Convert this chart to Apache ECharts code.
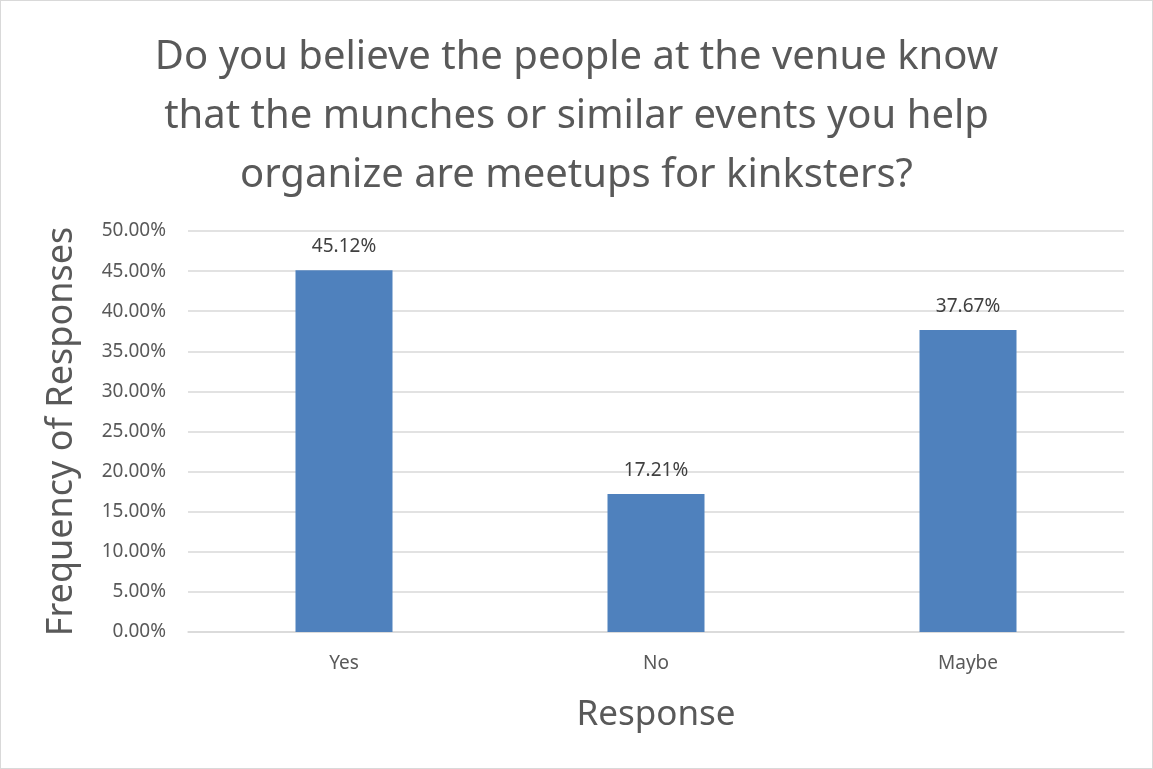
<!DOCTYPE html>
<html><head><meta charset="utf-8">
<script src="https://cdn.jsdelivr.net/npm/echarts@6/dist/echarts.min.js"></script>
<style>html,body{margin:0;padding:0;background:#fff}#c{width:1153px;height:769px;box-sizing:border-box;border:1px solid #d9d9d9}</style>
</head><body><div id="c"></div>
<script>
var categories = ['Yes', 'No', 'Maybe'];
var values = [45.12, 17.21, 37.67];
var titleText = 'Do you believe the people at the venue know\nthat the munches or similar events you help\norganize are meetups for kinksters?';
var chart = echarts.init(document.getElementById('c'));
chart.setOption({
  animation: false,
  title: {
    text: titleText, left: 'center', top: 22,
    textStyle: { fontFamily: 'Noto Sans', fontSize: 40, fontWeight: 'normal', color: '#595959', lineHeight: 59 }
  },
  grid: { left: 187, right: 28, top: 230, bottom: 136 },
  xAxis: {
    type: 'category', data: categories,
    name: 'Response', nameLocation: 'middle', nameGap: 66,
    nameTextStyle: { fontFamily: 'Noto Sans', fontSize: 35, color: '#595959' },
    axisLine: { lineStyle: { color: '#d9d9d9', width: 1.5 } },
    axisTick: { show: false },
    axisLabel: { fontFamily: 'Noto Sans', fontSize: 19, color: '#595959', margin: 22 }
  },
  yAxis: {
    type: 'value', min: 0, max: 50, interval: 5,
    name: 'Frequency of Responses', nameLocation: 'middle', nameGap: 108,
    nameTextStyle: { fontFamily: 'Noto Sans', fontSize: 36, color: '#595959' },
    axisLine: { show: false }, axisTick: { show: false },
    splitLine: { lineStyle: { color: '#d9d9d9', width: 1.5 } },
    axisLabel: { fontFamily: 'Noto Sans', fontSize: 19, color: '#595959', margin: 22,
      formatter: function (v) { return v.toFixed(2) + '%'; } }
  },
  series: [{
    type: 'bar', data: values, barWidth: 97,
    itemStyle: { color: '#4f81bd' },
    label: { show: true, position: 'top', distance: 14, fontFamily: 'Noto Sans', fontSize: 19, color: '#404040',
      formatter: function (p) { return p.value.toFixed(2) + '%'; } }
  }]
});
</script></body></html>
